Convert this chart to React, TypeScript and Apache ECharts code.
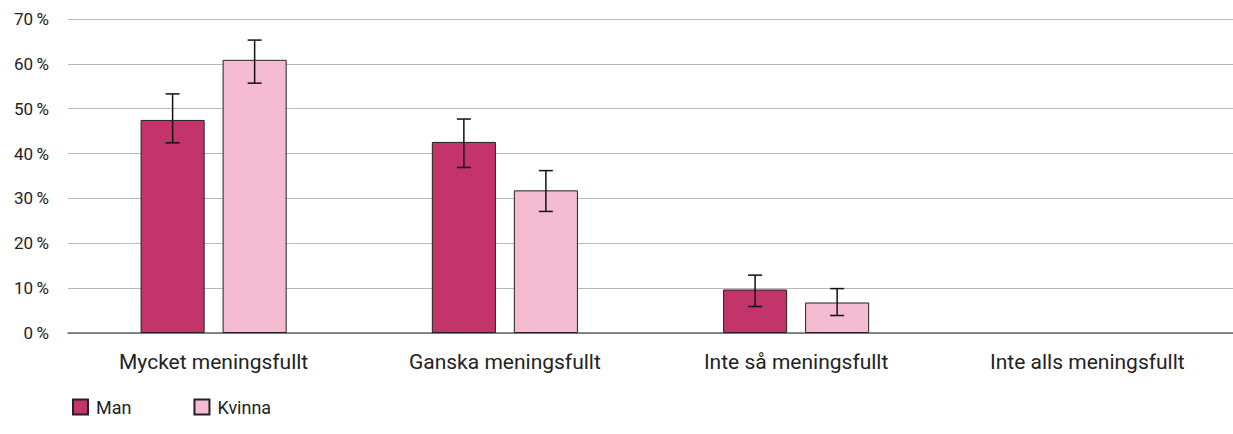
import React, { useEffect, useRef } from "react";
import * as echarts from "echarts";

const categories = ["Mycket meningsfullt", "Ganska meningsfullt", "Inte så meningsfullt", "Inte alls meningsfullt"];
const manValues = [47.5, 42.6, 9.7, 0];
const kvinnaValues = [60.9, 31.8, 6.8, 0];
const manLow = [42.4, 36.9, 5.9, null];
const manHigh = [53.3, 47.7, 12.9, null];
const kvinnaLow = [55.7, 27.1, 3.9, null];
const kvinnaHigh = [65.3, 36.2, 9.9, null];
const yTicks = [0, 10, 20, 30, 40, 50, 60, 70];

const BAR_W = 0.22;
const BAR_GAP = 0.28;

function errorSeries(low: (number | null)[], high: (number | null)[], sign: number) {
  const data = low
    .map((l, i) => (l === null || high[i] === null ? null : [i, l, high[i]]))
    .filter((d) => d !== null);
  return {
    type: "custom",
    z: 10,
    silent: true,
    data,
    encode: { x: 0, y: [1, 2] },
    renderItem: (params: any, api: any) => {
      const idx = api.value(0);
      const lo = api.coord([idx, api.value(1)]);
      const hi = api.coord([idx, api.value(2)]);
      const band = api.size([1, 0])[0];
      const off = (sign * band * (BAR_W + BAR_W * BAR_GAP)) / 2;
      const x = lo[0] + off;
      const cap = 7;
      const style = { stroke: "#111", lineWidth: 1.5 };
      return {
        type: "group",
        children: [
          { type: "line", shape: { x1: x, y1: lo[1], x2: x, y2: hi[1] }, style },
          { type: "line", shape: { x1: x - cap, y1: lo[1], x2: x + cap, y2: lo[1] }, style },
          { type: "line", shape: { x1: x - cap, y1: hi[1], x2: x + cap, y2: hi[1] }, style },
        ],
      };
    },
  };
}

function barData(vals: number[]) {
  return vals.map((v) => (v === 0 ? { value: v, itemStyle: { borderWidth: 0 } } : v));
}

export default function App() {
  const ref = useRef<HTMLDivElement>(null);
  useEffect(() => {
    if (!ref.current) return;
    const chart = echarts.init(ref.current, undefined, { renderer: "svg" });
    chart.setOption({
      animation: false,
      textStyle: { fontFamily: "Roboto" },
      grid: { left: 68, right: 0, top: 19, bottom: 101, containLabel: false },
      legend: {
        data: ["Man", "Kvinna"],
        left: 67,
        top: 393,
        itemWidth: 15,
        itemHeight: 15,
        itemGap: 62,
        icon: "rect",
        textStyle: { fontSize: 18, color: "#222", fontFamily: "Roboto", padding: [0, 0, 0, 3] },
      },
      xAxis: {
        type: "category",
        data: categories,
        axisTick: { show: false },
        axisLine: { lineStyle: { color: "#666", width: 1.5 } },
        axisLabel: { fontSize: 21, color: "#222", margin: 18, fontFamily: "Roboto" },
      },
      yAxis: {
        type: "value",
        min: yTicks[0],
        max: yTicks[yTicks.length - 1],
        interval: 10,
        axisLine: { show: false },
        axisTick: { show: false },
        axisLabel: { fontSize: 17, color: "#222", margin: 19, formatter: "{value}\u2009%", fontFamily: "Roboto" },
        splitLine: { lineStyle: { color: "#b8b8b8", width: 1 } },
      },
      series: [
        {
          name: "Man",
          type: "bar",
          data: barData(manValues),
          barWidth: BAR_W * 100 + "%",
          barGap: BAR_GAP * 100 + "%",
          itemStyle: { color: "#C3346A", borderColor: "#222", borderWidth: 1 },
        },
        {
          name: "Kvinna",
          type: "bar",
          data: barData(kvinnaValues),
          barWidth: BAR_W * 100 + "%",
          barGap: BAR_GAP * 100 + "%",
          itemStyle: { color: "#F5BBD1", borderColor: "#222", borderWidth: 1 },
        },
        errorSeries(manLow, manHigh, -1),
        errorSeries(kvinnaLow, kvinnaHigh, 1),
      ],
    });
    return () => chart.dispose();
  }, []);
  return <div ref={ref} style={{ position: "absolute", left: 0, top: 0, width: 1233, height: 434 }} />;
}
